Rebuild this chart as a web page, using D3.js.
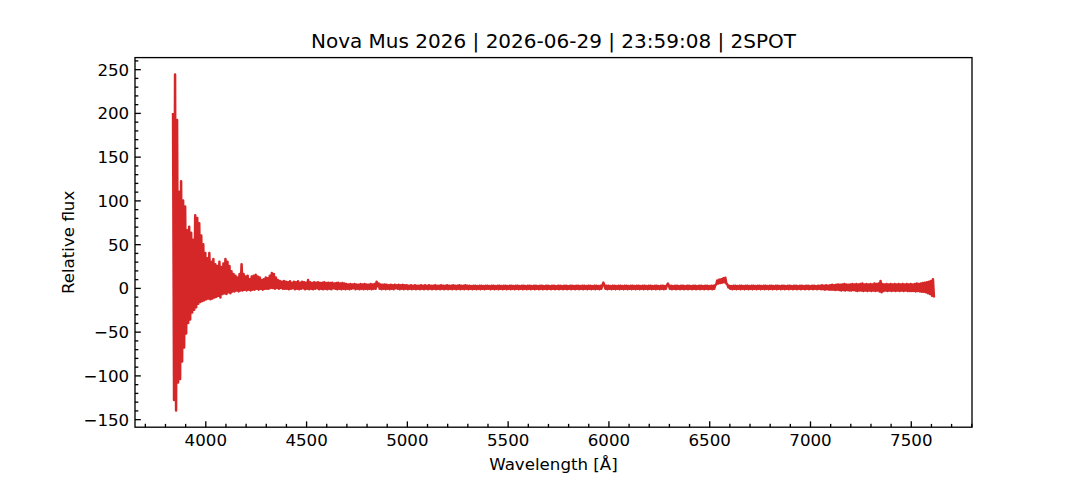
<!DOCTYPE html>
<html>
<head>
<meta charset="utf-8">
<title>Nova Mus 2026 spectrum</title>
<script src="https://d3js.org/d3.v7.min.js"></script>
<style>
    body { margin: 0; background: #fff; }
    svg { display: block; font-family: 'DejaVu Sans', sans-serif; }
    .axis text { font-size: 16.67px; fill: #000; font-family: 'DejaVu Sans', sans-serif; }
    .axis line { stroke: #000; stroke-width: 1.33px; }
    .axis path { display: none; }
</style>
</head>
<body>
<svg width="1080" height="480"></svg>
<script>
// DATA ========================================================
const titleText = "Nova Mus 2026 | 2026-06-29 | 23:59:08 | 2SPOT";
const xLabel = "Wavelength [Å]";
const yLabel = "Relative flux";

// the spectrum is sampled every 5 Å; blue end from 3840 Å
const waveStep = 5;
const blueStart = 3840;
const fluxBlue = [
    200, -128, 244, -140, 192, -108, 110, -104, 122, -84,
    100, -68, 93, -52, 66, -40, 70, -36, 63, -28,
    55, -25, 83, -22, 80, -18, 74, -16, 60, -15,
    50, -14, 40, -13, 34, -12, 40, -13, 30, -12,
    33, -11, 27, -10, 25, -9, 30, -11, 24, -7,
    28, -6, 33, -7, 30, -5, 25, -6, 19, -4,
    16, -4, 14, -3, 12, -4, 16, -3, 27, -3,
    16, -2, 13, -3, 14, -2, 10, -3, 13, -2,
    14, -2, 15, -1, 13, -2, 12, -1, 9, -2,
    10, -1, 12, -1, 11, -1, 14, 0, 17, 0,
    16, -1, 12, 0, 9, -1, 8, 0, 7, -1,
    8, -1
];

// rest of the spectrum from 4400 Å, one row per 100 Å
const redStart = 4400;
const fluxRed = [
    7, -1, 6.5, -1.5, 7.5, -1, 6, -0.5, 7, -1.5, 6.5, -1, 7.5, -1.5, 6, -1, 7, -0.5, 6.5, -1.5,
    6, -1, 9, -1.5, 6.5, -1, 5.5, -1.5, 6.5, -1, 6, -0.5, 6.5, -1.5, 5.5, -1, 6, -1.5, 6.5, -1,
    5.5, -1.5, 6, -1, 5.5, -1.5, 6, -0.5, 5, -1, 5.5, -1.5, 6, -1, 5, -1.5, 5.5, -1, 5, -1.5,
    4.5, -1, 4, -1.5, 4.5, -1, 4, -0.5, 4.5, -1.5, 4, -1, 3.5, -1.5, 4.5, -1, 4, -1.5, 4.5, -1,
    4, -1.5, 3.5, -1, 4.5, -1.5, 4, -1, 4.5, -1, 7, 2, 5, -1, 4, -1.5, 3.5, -1, 4, -1.5,
    3.5, -1, 3, -1.5, 3.5, -1, 3, -1.5, 3.5, -0.5, 3, -1, 3.5, -1.5, 3, -1, 3.5, -1.5, 3, -1,
    3, -1.5, 2.5, -1, 3, -1.5, 2.5, -1, 3, -1.5, 2.5, -1, 2.5, -1.5, 3, -1, 2.5, -1.5, 3, -1,
    2.5, -1.5, 3, -1, 2.5, -1.5, 2.5, -1, 3, -1.5, 2.5, -1, 2.5, -1.5, 3, -1, 2.5, -1.5, 2.5, -1,
    3, -1.5, 2.5, -1, 2.5, -1.5, 3, -1, 2.5, -1.5, 2.5, -1, 3, -1.5, 2.5, -1, 2.5, -1.5, 3, -1,
    2.5, -1.5, 2.5, -1, 2, -1.5, 2.5, -1, 2.5, -1.5, 2, -1, 2.5, -1.5, 2.5, -1, 2, -1.5, 2.5, -1,
    2.5, -1, 2, -1.5, 2.5, -1, 2.5, -1.5, 2, -1, 2.5, -1.5, 2.5, -1, 2, -1.5, 2.5, -1, 2.5, -1.5,
    2, -1, 2.5, -1.5, 2.5, -1, 2, -1.5, 2.5, -1, 2.5, -1.5, 2, -1, 2.5, -1.5, 2.5, -1, 2, -1.5,
    2.5, -1, 2.5, -1.5, 2, -1, 2.5, -1.5, 2.5, -1, 2, -1.5, 2.5, -1, 2.5, -1.5, 2, -1, 2.5, -1.5,
    2.5, -1, 2, -1.5, 2.5, -1, 2.5, -1.5, 2, -1, 2.5, -1.5, 2.5, -1, 2, -1.5, 2.5, -1, 2.5, -1.5,
    2, -1, 2.5, -1.5, 2.5, -1, 2, -1.5, 2.5, -1, 2.5, -1.5, 2, -1, 2.5, -1.5, 2.5, -1, 2, -1.5,
    2.5, -1, 2.5, -1.5, 2, -1, 2.5, -1.5, 2.5, -1, 2, -1.5, 2.5, -1, 3, 6, 3, -1, 2.5, -1.5,
    2.5, -1, 2, -1.5, 2.5, -1, 2.5, -1.5, 2, -1, 2.5, -1.5, 2.5, -1, 2, -1.5, 2.5, -1, 2.5, -1.5,
    2, -1, 2.5, -1.5, 2.5, -1, 2, -1.5, 2.5, -1, 2.5, -1.5, 2, -1, 2.5, -1.5, 2.5, -1, 2, -1.5,
    2.5, -1, 2.5, -1.5, 2, -1, 2.5, -1.5, 2.5, -1, 2, -1.5, 2.5, -1, 2.5, -1.5, 2, -1, 3, 5,
    2.5, -1, 2.5, -1.5, 2, -1, 2.5, -1.5, 2.5, -1, 2, -1.5, 2.5, -1, 2.5, -1.5, 2, -1, 2.5, -1.5,
    2.5, -1, 2, -1.5, 2.5, -1, 2.5, -1.5, 2, -1, 2.5, -1.5, 2.5, -1, 2, -1.5, 2.5, -1, 2.5, -1.5,
    2, -1, 2.5, -1.5, 2.5, -1, 3, 4, 8.5, 5, 9.5, 5.5, 10, 6, 11, 6.5, 11.5, 5, 4, 0.5,
    2.5, -1, 2, -1.5, 2.5, -1, 2.5, -1.5, 2, -1, 2.5, -1.5, 2.5, -1, 2, -1.5, 2.5, -1, 2.5, -1.5,
    2, -1, 2.5, -1.5, 2.5, -1, 2, -1.5, 2.5, -1, 2.5, -1.5, 2, -1, 2.5, -1.5, 2.5, -1, 2, -1.5,
    2.5, -1, 2.5, -1.5, 2, -1, 2.5, -1.5, 2.5, -1, 2, -1.5, 2.5, -1, 2.5, -1.5, 2, -1, 2.5, -1.5,
    2.5, -1, 2, -1.5, 2.5, -1, 2.5, -1.5, 2, -1, 2.5, -1.5, 2.5, -1, 2, -1.5, 2.5, -1, 2.5, -1.5,
    2, -1, 2.5, -1.5, 2.5, -1, 2, -1.5, 2.5, -1, 2.5, -1.5, 3, -1.5, 2.5, -2, 3, -1.5, 2.5, -2,
    3, -2, 3.5, -2, 3, -2.5, 3.5, -2, 4, -2.5, 3.5, -3, 4, -2.5, 4.5, -3, 4, -2.5, 3.5, -3,
    4, -3, 4.5, -2.5, 4, -3, 4.5, -3.5, 4, -3, 4.5, -3, 5, -3.5, 4, -3, 4.5, -3.5, 4, -3,
    4.5, -3.5, 4, -3, 5, -3.5, 4.5, -3, 5, -4, 8, -5, 4.5, -3.5, 4, -3, 4.5, -3.5, 4, -3,
    4.5, -3.5, 4, -3, 4.5, -3.5, 4, -3, 4.5, -3.5, 4, -3, 4.5, -3.5, 4, -3, 4.5, -3.5, 4, -3.5,
    4.5, -3.5, 4, -3.5, 4.5, -4, 5, -3.5, 4.5, -4, 5, -4.5, 5.5, -4.5, 6, -5, 6.5, -6, 7, -7,
    8, -9, 10, -11
];

const xMajorTicks = [4000, 4500, 5000, 5500, 6000, 6500, 7000, 7500];
const yMajorTicks = [-150, -100, -50, 0, 50, 100, 150, 200, 250];

// BUILD SPECTRUM ==============================================
const spectrum = fluxBlue.map((f, i) => ({ wl: blueStart + i * waveStep, flux: f }))
    .concat(fluxRed.map((f, i) => ({ wl: redStart + i * waveStep, flux: f })));

// LAYOUT ======================================================
const width = 1080, height = 480;
const margin = { left: 135, right: 108, top: 57.6, bottom: 52.8 };
const innerW = width - margin.left - margin.right;
const innerH = height - margin.top - margin.bottom;

// matplotlib style 5% auto margins
function padded(ext) {
    const d = (ext[1] - ext[0]) * 0.05;
    return [ext[0] - d, ext[1] + d];
}

const x = d3.scaleLinear()
    .domain(padded(d3.extent(spectrum, d => d.wl)))
    .range([0, innerW]);
const y = d3.scaleLinear()
    .domain(padded(d3.extent(spectrum, d => d.flux)))
    .range([innerH, 0]);

const svg = d3.select("svg");
const g = svg.append("g").attr("transform", `translate(${margin.left},${margin.top})`);

// minor tick values inside the domain
const xMinor = d3.range(3000, 8001, 100).filter(v => v >= x.domain()[0] && v <= x.domain()[1] && v % 500 !== 0);
const yMinor = d3.range(-300, 301, 10).filter(v => v >= y.domain()[0] && v <= y.domain()[1] && v % 50 !== 0);

// SPECTRUM LINE ===============================================
g.append("path")
    .datum(spectrum)
    .attr("fill", "none")
    .attr("stroke", "#d62728")
    .attr("stroke-width", 2.5)
    .attr("stroke-linejoin", "round")
    .attr("d", d3.line().x(d => x(d.wl)).y(d => y(d.flux)));

// AXES ========================================================
g.append("g")
    .attr("class", "axis")
    .attr("transform", `translate(0,${innerH})`)
    .call(d3.axisBottom(x).tickValues(xMinor).tickFormat("").tickSizeInner(-3.33).tickSizeOuter(0));

g.append("g")
    .attr("class", "axis")
    .attr("transform", `translate(0,${innerH})`)
    .call(d3.axisBottom(x).tickValues(xMajorTicks).tickFormat(d3.format("d"))
        .tickSizeInner(-5.83).tickSizeOuter(0).tickPadding(5.83))
    .selectAll("text").attr("dy", "0.76em");

g.append("g")
    .attr("class", "axis")
    .call(d3.axisLeft(y).tickValues(yMinor).tickFormat("").tickSizeInner(-3.33).tickSizeOuter(0));

g.append("g")
    .attr("class", "axis")
    .call(d3.axisLeft(y).tickValues(yMajorTicks).tickFormat(d => d < 0 ? "\u2212" + Math.abs(d) : d)
        .tickSizeInner(-5.83).tickSizeOuter(0).tickPadding(5.83))
    .selectAll("text").attr("dy", "0.36em");

// frame
g.append("rect")
    .attr("width", innerW)
    .attr("height", innerH)
    .attr("fill", "none")
    .attr("stroke", "#000")
    .attr("stroke-width", 1.33);

// LABELS ======================================================
svg.append("text")
    .attr("x", margin.left + innerW / 2)
    .attr("y", 47.6)
    .attr("text-anchor", "middle")
    .attr("font-size", "20px")
    .text(titleText);

svg.append("text")
    .attr("x", margin.left + innerW / 2)
    .attr("y", 470)
    .attr("text-anchor", "middle")
    .attr("font-size", "16.67px")
    .text(xLabel);

svg.append("text")
    .attr("transform", `translate(74,${margin.top + innerH / 2}) rotate(-90)`)
    .attr("text-anchor", "middle")
    .attr("font-size", "16.67px")
    .text(yLabel);
</script>
</body>
</html>
